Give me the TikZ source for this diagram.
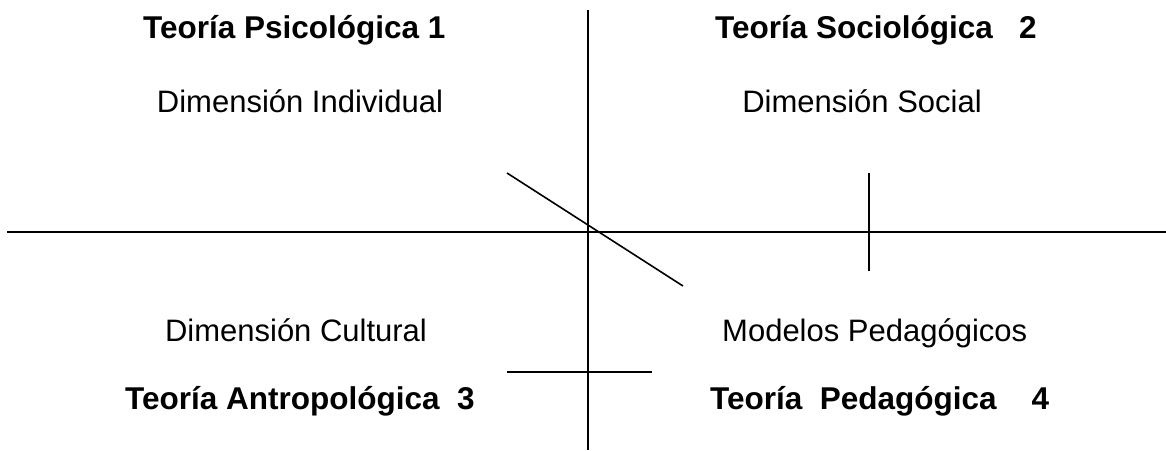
\documentclass[tikz,border=0pt]{standalone}
\usepackage{fontspec}
\setmainfont{Liberation Sans}
\begin{document}
\begin{tikzpicture}[x=1pt,y=-1pt,
  lbl/.style={inner sep=0pt,font=\fontsize{31}{37}\selectfont},
  ttl/.style={inner sep=0pt,font=\fontsize{31.5}{37}\selectfont\bfseries},
  axis/.style={line width=2pt,black},
  thin/.style={line width=1.6pt,black}]
\useasboundingbox (0,0) rectangle (1166,450);
% axes
\coordinate (vt) at (588,10);
\coordinate (vb) at (588,450);
\coordinate (hl) at (7,232);
\coordinate (hr) at (1166,232);
\draw[axis] (vt) -- (vb);
\draw[axis] (hl) -- (hr);
% diagonal
\coordinate (d1) at (507,173);
\coordinate (d2) at (683,286);
\draw[thin] (d1) -- (d2);
% short vertical
\coordinate (s1) at (869,173);
\coordinate (s2) at (869,271);
\draw[thin] (s1) -- (s2);
% short horizontal
\coordinate (h1) at (507,372);
\coordinate (h2) at (652,372);
\draw[thin] (h1) -- (h2);
% texts
\node[ttl,anchor=base west] (t1) at (143,38) {Teoría Psicológica 1};
\node[lbl,anchor=base] (d1t) at (300,112) {Dimensión Individual};
\node[ttl,anchor=base west] (t2) at (715,38) {Teoría Sociológica\ \ \ 2};
\node[lbl,anchor=base] (d2t) at (862,112) {Dimensión Social};
\node[lbl,anchor=base] (d3t) at (296,341) {Dimensión Cultural};
\node[lbl,anchor=base west] (d4t) at (722,341) {Modelos Pedagógicos};
\node[ttl,anchor=base west] (t3) at (125,409) {Teoría Antropológica\ \ 3};
\node[ttl,anchor=base west] (t4) at (710,409) {Teoría\ \ Pedagógica\ \ \ \ 4};
\end{tikzpicture}
\end{document}
